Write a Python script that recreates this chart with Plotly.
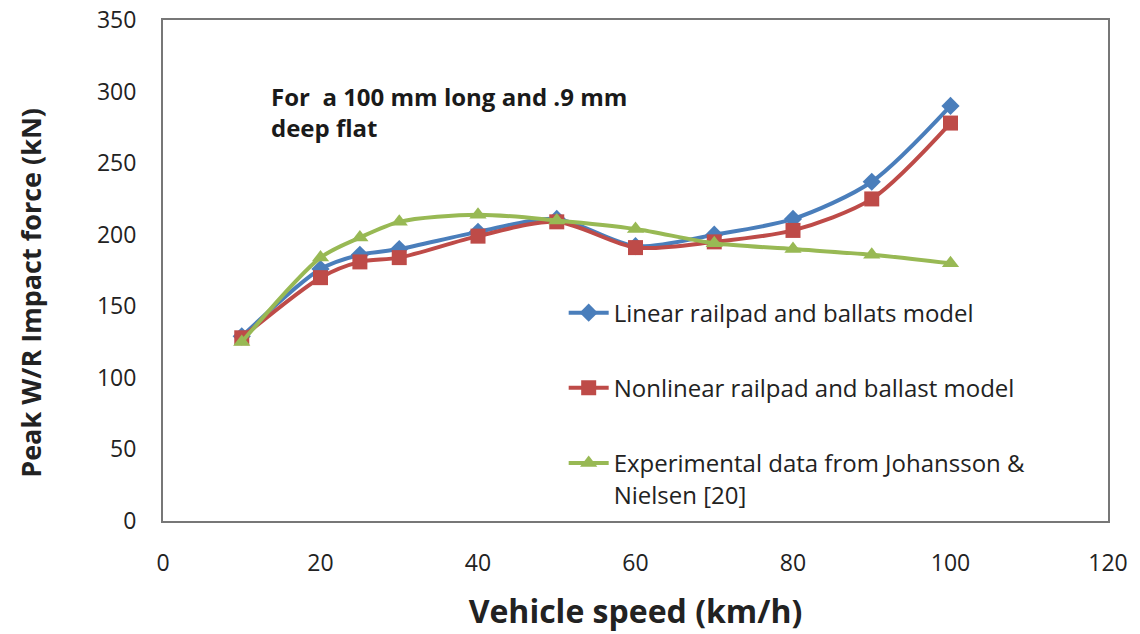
import plotly.graph_objects as go

speed = [10, 20, 25, 30, 40, 50, 60, 70, 80, 90, 100]
linear_model = [129, 176, 186, 190, 202, 211, 192, 200, 211, 237, 290]
nonlinear_model = [128, 170, 181, 184, 199, 209, 191, 195, 203, 225, 278]
experimental = [125, 184, 198, 209, 214, 210, 204, 194, 190, 186, 180]

names = [
    "Linear railpad and ballats model",
    "Nonlinear railpad and ballast model",
    "Experimental data from Johansson &<br>Nielsen [20]",
]

fig = go.Figure()
fig.add_trace(go.Scatter(
    x=speed, y=linear_model, name=names[0], mode="lines+markers",
    line=dict(color="#4A7EBB", width=4, shape="spline", smoothing=0.8),
    marker=dict(symbol="diamond", size=14, color="#4A7EBB"),
    legendgroup="a",
))
fig.add_trace(go.Scatter(
    x=speed, y=nonlinear_model, name=names[1], mode="lines+markers",
    line=dict(color="#BE4B48", width=4, shape="spline", smoothing=0.8),
    marker=dict(symbol="square", size=15, color="#BE4B48"),
    legendgroup="b",
))
fig.add_trace(go.Scatter(
    x=speed, y=experimental, name=names[2], mode="lines+markers",
    line=dict(color="#98B954", width=4, shape="spline", smoothing=0.8),
    marker=dict(symbol="triangle-up", size=15, color="#98B954"),
    legendgroup="c",
))

fig.add_annotation(
    x=0.112, y=0.885, xref="paper", yref="paper", xanchor="left", yanchor="top",
    text="<b>For  a 100 mm long and .9 mm<br>deep flat</b>", showarrow=False,
    align="left", font=dict(family="Open Sans", size=24, color="#1a1a1a"),
)
# y-axis title sits a bit below the plot centre in the original
fig.add_annotation(
    x=-0.141, y=0.455, xref="paper", yref="paper", xanchor="center", yanchor="middle",
    text="<b>Peak W/R Impact force (kN)</b>", textangle=-90, showarrow=False,
    font=dict(family="Open Sans", size=27, color="#222222"),
)

fig.update_layout(
    width=1140, height=634,
    margin=dict(l=163, r=32, t=20, b=113),
    plot_bgcolor="white", paper_bgcolor="white",
    font=dict(family="Open Sans", color="#222222"),
    legend=dict(
        x=0.424, y=0.46, xanchor="left", yanchor="top", valign="top",
        font=dict(size=24, color="#222222"), tracegroupgap=41,
        bgcolor="rgba(0,0,0,0)", itemwidth=40,
    ),
    xaxis=dict(
        range=[0, 120], dtick=20, showgrid=False, zeroline=False,
        showline=True, mirror=True, linecolor="#777777", linewidth=2,
        tickfont=dict(size=23), ticklabelstandoff=20, automargin=False,
        ticklabeloverflow="allow",
        title=dict(text="<b>Vehicle speed (km/h)</b>", font=dict(size=32), standoff=24),
    ),
    yaxis=dict(
        range=[0, 350], dtick=50, showgrid=False, zeroline=False,
        showline=True, mirror=True, linecolor="#777777", linewidth=2,
        tickfont=dict(size=23), ticklabelstandoff=20, automargin=False,
        ticklabeloverflow="allow",
    ),
)

# drop the browser's default 8px page margin so the figure sits at the corner
fig.write_html(
    "out.html",
    config={"displayModeBar": False},
    post_script="document.body.style.margin = '0';",
)
